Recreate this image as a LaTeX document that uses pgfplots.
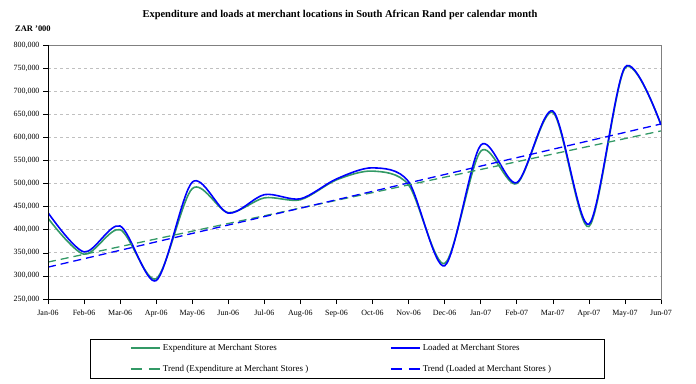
\documentclass[border=0pt]{standalone}
\usepackage{pgfplots}
\pgfplotsset{compat=1.18}
\usepackage{fontspec}
\setmainfont{Liberation Serif}
\definecolor{expgreen}{RGB}{51,153,102}
\definecolor{gridgray}{RGB}{192,192,192}
\definecolor{boxgray}{RGB}{128,128,128}
\begin{document}
\begin{tikzpicture}[x=1bp,y=1bp]
\path[use as bounding box] (0,0) rectangle (696,383);
\node[font=\bfseries\fontsize{10.5}{12}\selectfont] at (340,368) {Expenditure and loads at merchant locations in South African Rand per calendar month};
\node[font=\bfseries\fontsize{8.5}{9}\selectfont, anchor=west, inner sep=0pt] at (15,354) {ZAR '000};
\begin{axis}[
  at={(48bp,84bp)}, anchor=south west,
  scale only axis, width=613bp, height=254bp,
  xmin=0, xmax=17, ymin=250000, ymax=800000,
  xtick={0,...,17},
  xticklabels={Jan-06,Feb-06,Mar-06,Apr-06,May-06,Jun-06,Jul-06,Aug-06,Sep-06,Oct-06,Nov-06,Dec-06,Jan-07,Feb-07,Mar-07,Apr-07,May-07,Jun-07},
  ytick={250000,300000,...,800000},
  scaled y ticks=false,
  yticklabel style={/pgf/number format/.cd, fixed, 1000 sep={,}, assume math mode=true},
  xticklabel style={yshift=-2bp, text height=6bp, text depth=2bp},
  ticklabel style={font=\fontsize{8}{9}\selectfont},
  xtick pos=left, ytick pos=left,
  tick align=outside, major tick length=5bp,
  tick style={black, line width=0.6bp},
  ymajorgrids, grid style={dash pattern=on 3bp off 3bp, gridgray, line width=0.7bp},
  axis line style={boxgray, line width=0.8bp},
  legend columns=2,
  legend style={at={(axis description cs:0.0685,-0.311)}, anchor=south west,
    draw=black, font=\fontsize{9}{10}\selectfont,
    row sep=9bp, inner ysep=3bp, inner xsep=0bp},
  legend cell align=left,
]
\addplot[expgreen, line width=1.6bp, smooth, tension=0.5,
  legend image code/.code={\path (0bp,0bp); \draw[expgreen, line width=2bp] (40bp,0bp) -- (69bp,0bp);}] coordinates {
(0,425000) (1,347000) (2,400000) (3,294000) (4,489000) (5,437000) (6,469000) (7,465000) (8,508000)
(9,527000) (10,497000) (11,327000) (12,570000) (13,500000) (14,654000) (15,407000) (16,750000) (17,627000)};
\addlegendentry{\makebox[185bp][l]{Expenditure at Merchant Stores}}
\addplot[blue, line width=1.6bp, smooth, tension=0.5,
  legend image code/.code={\path (0bp,0bp); \draw[blue, line width=2bp] (40bp,0bp) -- (69bp,0bp);}] coordinates {
(0,437000) (1,352000) (2,408000) (3,290000) (4,503000) (5,436000) (6,476000) (7,467000) (8,510000)
(9,534000) (10,504000) (11,322000) (12,583000) (13,502000) (14,657000) (15,412000) (16,752000) (17,627000)};
\addlegendentry{\makebox[179bp][l]{Loaded at Merchant Stores}}
\addplot[expgreen, line width=1.3bp, dash pattern=on 8bp off 5bp,
  legend image code/.code={\path (0bp,0bp); \draw[expgreen, line width=2bp, dash pattern=on 11bp off 7bp] (40bp,0bp) -- (69bp,0bp);}] coordinates {(0,330000) (17,614000)};
\addlegendentry{\makebox[185bp][l]{Trend (Expenditure at Merchant Stores )}}
\addplot[blue, line width=1.3bp, dash pattern=on 8bp off 5bp,
  legend image code/.code={\path (0bp,0bp); \draw[blue, line width=2bp, dash pattern=on 11bp off 7bp] (40bp,0bp) -- (69bp,0bp);}] coordinates {(0,319000) (17,629000)};
\addlegendentry{\makebox[179bp][l]{Trend (Loaded at Merchant Stores )}}
\draw[black, line width=0.8bp] (rel axis cs:0,1) -- (rel axis cs:0,0) -- (rel axis cs:1,0);
\end{axis}
\end{tikzpicture}
\end{document}
